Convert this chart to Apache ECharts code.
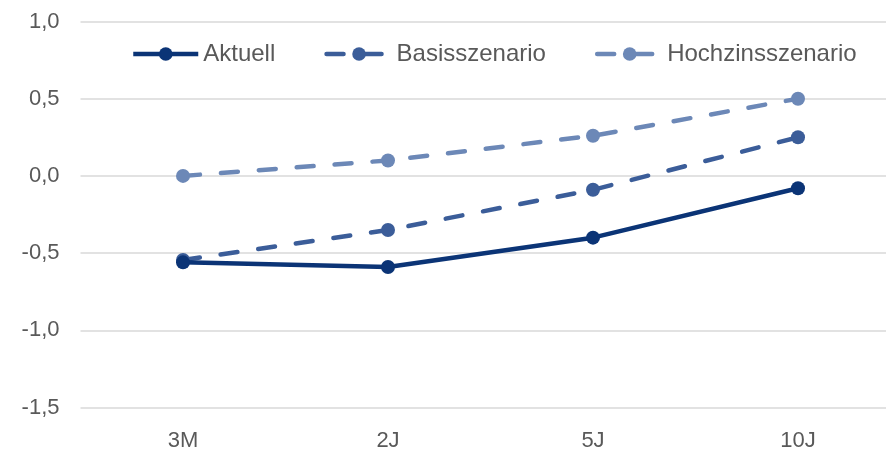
<!DOCTYPE html>
<html>
<head>
<meta charset="utf-8">
<script src="https://cdn.jsdelivr.net/npm/echarts@6/dist/echarts.min.js"></script>
<style>
  html, body { margin: 0; padding: 0; background: #ffffff; overflow: hidden; }
  #wrap { width: 886px; height: 452px; overflow: hidden; }
  /* the plot runs past the right edge, so the canvas is a little wider than the view */
  #chart { width: 901px; height: 452px; }
</style>
</head>
<body>
<div id="wrap"><div id="chart"></div></div>
<script>
// Laufzeiten und Zinskurven (in %)
const categories = ['3M', '2J', '5J', '10J'];
const aktuell = [-0.56, -0.59, -0.40, -0.08];
const basisszenario = [-0.545, -0.35, -0.09, 0.25];
const hochzinsszenario = [0.0, 0.10, 0.26, 0.50];
const seriesNames = ['Aktuell', 'Basisszenario', 'Hochzinsszenario'];
const yTicks = { min: -1.5, max: 1.0, interval: 0.5 };

const colors = ['#0b3476', '#3b5d99', '#6c88b7'];
const font = 'Liberation Sans, Arial, sans-serif';

function makeSeries(name, data, color, dashed) {
  return {
    name: name,
    type: 'line',
    data: data,
    symbol: 'circle',
    symbolSize: 14,
    showSymbol: true,
    itemStyle: { color: color },
    lineStyle: {
      color: color,
      width: 4.5,
      type: dashed ? [17, 21] : 'solid',
      cap: dashed ? 'round' : 'butt'
    },
    emphasis: { disabled: true },
    z: dashed ? 2 : 3
  };
}

const chart = echarts.init(document.getElementById('chart'), null, { renderer: 'canvas' });
chart.setOption({
  animation: false,
  backgroundColor: '#ffffff',
  grid: { left: 80.5, top: 21.5, right: 0.5, bottom: 44.5, containLabel: false },
  legend: {
    data: seriesNames,
    left: 126,
    top: 37,
    itemWidth: 65,
    itemHeight: 17,
    itemGap: 49,
    lineStyle: { width: 4.5 },
    textStyle: { fontFamily: font, fontSize: 24, color: '#595959' }
  },
  xAxis: {
    type: 'category',
    data: categories,
    boundaryGap: true,
    axisLine: { show: false },
    axisTick: { show: false },
    axisLabel: { fontFamily: font, fontSize: 22, color: '#595959', margin: 22 }
  },
  yAxis: {
    type: 'value',
    min: yTicks.min,
    max: yTicks.max,
    interval: yTicks.interval,
    axisLine: { show: false },
    axisTick: { show: false },
    splitLine: { lineStyle: { color: '#d9d9d9', width: 1.5 } },
    axisLabel: {
      fontFamily: font,
      fontSize: 22,
      color: '#595959',
      margin: 21,
      formatter: v => v.toFixed(1).replace('.', ',')
    }
  },
  series: [
    makeSeries(seriesNames[0], aktuell, colors[0], false),
    makeSeries(seriesNames[1], basisszenario, colors[1], true),
    makeSeries(seriesNames[2], hochzinsszenario, colors[2], true)
  ]
});
</script>
</body>
</html>
